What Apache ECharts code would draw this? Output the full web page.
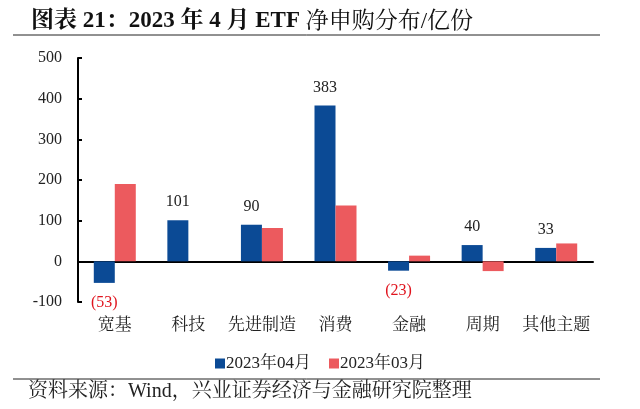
<!DOCTYPE html>
<html>
<head>
<meta charset="utf-8">
<script src="https://cdn.jsdelivr.net/npm/echarts@6/dist/echarts.min.js"></script>
<style>html,body{margin:0;padding:0;background:#fff}#c{width:640px;height:409px}</style>
</head>
<body>
<div id="c"></div>
<script>
const categories = ['宽基', '科技', '先进制造', '消费', '金融', '周期', '其他主题'];
const apr2023 = [-53, 101, 90, 383, -23, 40, 33];
const mar2023 = [190, 0, 82, 137, 14, -24, 44];
const seriesNames = ['2023年04月', '2023年03月'];
const yTicks = { min: -100, max: 500, interval: 100 };
const titleBold = '图表 21：2023 年 4 月 ETF ';
const titleRest = '净申购分布/亿份';
const sourceText = '资料来源：Wind，兴业证券经济与金融研究院整理';

const serif = "'Liberation Serif', 'Times New Roman', 'Noto Serif CJK SC', 'Noto Sans CJK SC', serif";
const blue = '#0b4a95';
const red = '#ec5a5e';

const chart = echarts.init(document.getElementById('c'), null, { renderer: 'canvas' });

const aprData = apr2023.map(v => ({
  value: v,
  label: v < 0
    ? { show: true, position: 'bottom', distance: 12, formatter: '(' + Math.abs(v) + ')', color: '#e0141e' }
    : { show: true, position: 'top', distance: 10, color: '#222' }
}));

chart.setOption({
  animation: false,
  textStyle: { fontFamily: serif },
  title: {
    text: '{b|' + titleBold + '}{r|' + titleRest + '}',
    left: 26, top: 5,
    textStyle: {
      rich: {
        b: { fontFamily: serif, fontSize: 23, fontWeight: 'bold', color: '#111' },
        r: { fontFamily: serif, fontSize: 23, fontWeight: 'normal', color: '#111' }
      }
    }
  },
  graphic: [
    { type: 'line', shape: { x1: 13, y1: 35, x2: 600, y2: 35 }, style: { stroke: '#222', lineWidth: 1 } },
    { type: 'line', shape: { x1: 13, y1: 379, x2: 600, y2: 379 }, style: { stroke: '#222', lineWidth: 1 } },
    { type: 'text', left: 28, top: 382, style: { text: sourceText, font: '20px ' + serif, fill: '#222' } }
  ],
  legend: {
    data: seriesNames,
    left: 'center', top: 350,
    itemWidth: 10, itemHeight: 10, itemGap: 18,
    icon: 'rect',
    textStyle: { fontFamily: serif, fontSize: 17, color: '#222', padding: [0, 0, 0, -4] }
  },
  grid: { left: 78, right: 47, top: 58, bottom: 107, containLabel: false },
  xAxis: [
    {
      type: 'category', data: categories,
      axisLine: { show: true, onZero: true, lineStyle: { color: '#000', width: 2 } },
      axisTick: { show: false }, axisLabel: { show: false }
    },
    {
      type: 'category', data: categories, position: 'bottom',
      axisLine: { show: false, onZero: false }, axisTick: { show: false },
      axisLabel: { show: true, margin: 15, fontSize: 17, color: '#222', fontFamily: serif, interval: 0 }
    }
  ],
  yAxis: {
    type: 'value', min: yTicks.min, max: yTicks.max, interval: yTicks.interval,
    axisLine: { show: true, lineStyle: { color: '#000', width: 2 } },
    axisTick: { show: true, inside: true, length: 4, lineStyle: { color: '#000', width: 2 } },
    axisLabel: { fontSize: 16, color: '#222', fontFamily: serif, margin: 16 },
    splitLine: { show: false }
  },
  series: [
    {
      name: seriesNames[0], type: 'bar', xAxisIndex: 0, data: aprData,
      barWidth: 21, barGap: '0%', itemStyle: { color: blue },
      label: { fontSize: 16, fontFamily: serif }
    },
    {
      name: seriesNames[1], type: 'bar', xAxisIndex: 0, data: mar2023,
      barWidth: 21, barGap: '0%', itemStyle: { color: red }
    }
  ]
});
</script>
</body>
</html>
